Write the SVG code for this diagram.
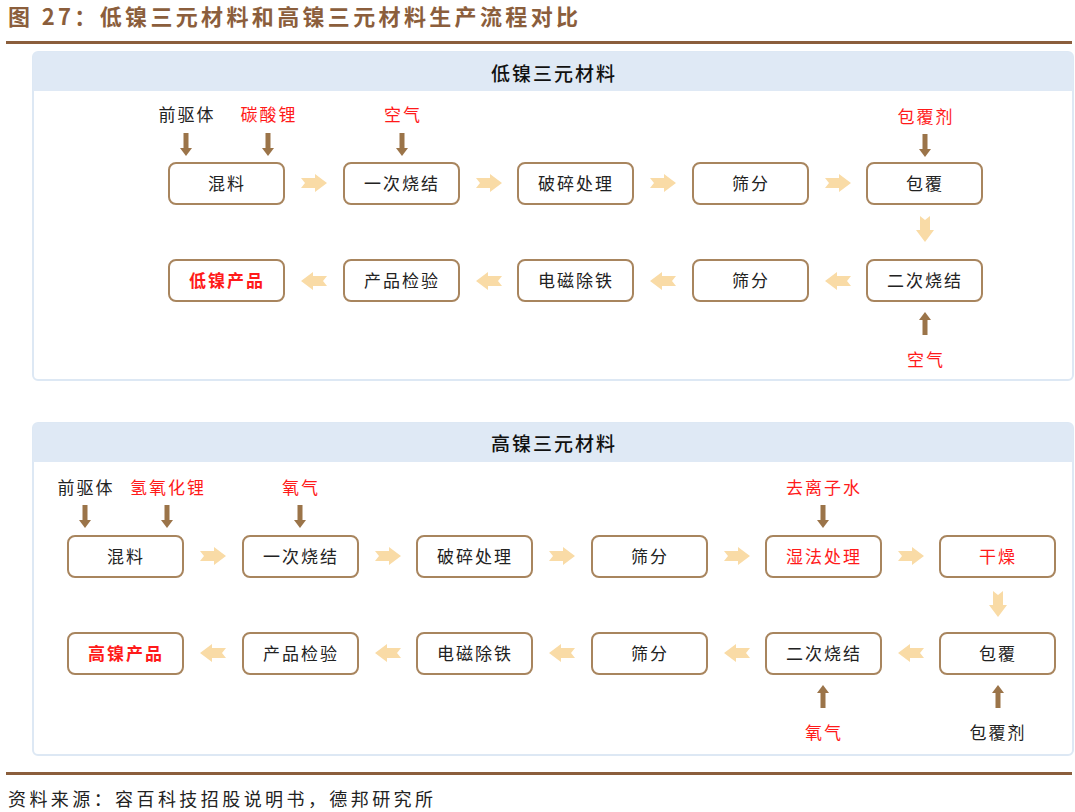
<svg xmlns="http://www.w3.org/2000/svg" xmlns:xlink="http://www.w3.org/1999/xlink" width="1075" height="812" viewBox="0 0 1075 812">
<style>
text{font-family:"Noto Sans CJK SC","Liberation Sans",sans-serif;}
.ttl{font-size:22px;font-weight:bold;fill:#8b5e3c;}
.src{font-size:18px;fill:#222;}
.hdr{font-size:19px;fill:#111;text-anchor:middle;letter-spacing:2px;font-weight:500;}
.panel{fill:#fff;stroke:#dde8f4;stroke-width:2;}
.hbar{fill:#dfe9f5;}
.box{fill:#fff;stroke:#a8855e;stroke-width:2;}
.bt{font-size:17px;fill:#222;text-anchor:middle;letter-spacing:2px;}
.lbl{font-size:17px;fill:#222;text-anchor:middle;letter-spacing:2px;}
.pa{fill:#f9dba6;}
.ba{fill:#9b7449;}
text.red{fill:#ff1a1a;}
.bold{font-weight:bold;}
</style>
<defs>
<path id="ra" d="M-13,-5 L1,-5 L1,-9 L13,0 L1,9 L1,5 L-13,5 L-9,0 Z"/>
<path id="da" d="M-2.5,-12 L2.5,-12 L2.5,3 L6,3 L0,11 L-6,3 L-2.5,3 Z"/>
</defs>
<rect width="1075" height="812" fill="#fff"/>
<text class="ttl" x="8" y="25" textLength="570" lengthAdjust="spacing">图 27：低镍三元材料和高镍三元材料生产流程对比</text>
<rect x="6" y="41" width="1066" height="3" fill="#8b5e3c"/>

<g id="panel-low">
<rect class="panel" x="33" y="52" width="1040" height="328" rx="5"/>
<path class="hbar" d="M38,52 H1068 A5,5 0 0 1 1073,57 V91 H33 V57 A5,5 0 0 1 38,52 Z"/>
<text class="hdr" x="554" y="81">低镍三元材料</text>
</g>

<g id="low-nodes">
<g id="l-mix"><rect class="box" x="169" y="163" width="115" height="41" rx="7"/><text class="bt" x="227" y="190">混料</text></g>
<g id="l-s1"><rect class="box" x="344" y="163" width="115" height="41" rx="7"/><text class="bt" x="402" y="190">一次烧结</text></g>
<g id="l-crush"><rect class="box" x="518" y="163" width="115" height="41" rx="7"/><text class="bt" x="576" y="190">破碎处理</text></g>
<g id="l-sieve1"><rect class="box" x="693" y="163" width="115" height="41" rx="7"/><text class="bt" x="751" y="190">筛分</text></g>
<g id="l-coat"><rect class="box" x="867" y="163" width="115" height="41" rx="7"/><text class="bt" x="925" y="190">包覆</text></g>
<g id="l-prod"><rect class="box" x="169" y="260" width="115" height="41" rx="7"/><text class="bt red bold" x="227" y="287">低镍产品</text></g>
<g id="l-test"><rect class="box" x="344" y="260" width="115" height="41" rx="7"/><text class="bt" x="402" y="287">产品检验</text></g>
<g id="l-fe"><rect class="box" x="518" y="260" width="115" height="41" rx="7"/><text class="bt" x="576" y="287">电磁除铁</text></g>
<g id="l-sieve2"><rect class="box" x="693" y="260" width="115" height="41" rx="7"/><text class="bt" x="751" y="287">筛分</text></g>
<g id="l-s2"><rect class="box" x="867" y="260" width="115" height="41" rx="7"/><text class="bt" x="925" y="287">二次烧结</text></g>
<g id="l-inputs">
<text class="lbl" x="187" y="121">前驱体</text>
<text class="lbl red" x="269" y="121">碳酸锂</text>
<text class="lbl red" x="403" y="121">空气</text>
<text class="lbl red" x="926" y="123">包覆剂</text>
<text class="lbl red" x="926" y="366">空气</text>
</g>
</g>

<g id="panel-high">
<rect class="panel" x="33" y="423" width="1040" height="332" rx="5"/>
<path class="hbar" d="M38,423 H1068 A5,5 0 0 1 1073,428 V462 H33 V428 A5,5 0 0 1 38,423 Z"/>
<text class="hdr" x="554" y="451">高镍三元材料</text>
</g>

<g id="high-nodes">
<g id="h-mix"><rect class="box" x="68" y="536" width="115" height="41" rx="7"/><text class="bt" x="126" y="563">混料</text></g>
<g id="h-s1"><rect class="box" x="243" y="536" width="115" height="41" rx="7"/><text class="bt" x="301" y="563">一次烧结</text></g>
<g id="h-crush"><rect class="box" x="417" y="536" width="115" height="41" rx="7"/><text class="bt" x="475" y="563">破碎处理</text></g>
<g id="h-sieve1"><rect class="box" x="592" y="536" width="115" height="41" rx="7"/><text class="bt" x="650" y="563">筛分</text></g>
<g id="h-wet"><rect class="box" x="766" y="536" width="115" height="41" rx="7"/><text class="bt red" x="824" y="563">湿法处理</text></g>
<g id="h-dry"><rect class="box" x="940" y="536" width="115" height="41" rx="7"/><text class="bt red" x="998" y="563">干燥</text></g>
<g id="h-prod"><rect class="box" x="68" y="633" width="115" height="41" rx="7"/><text class="bt red bold" x="126" y="660">高镍产品</text></g>
<g id="h-test"><rect class="box" x="243" y="633" width="115" height="41" rx="7"/><text class="bt" x="301" y="660">产品检验</text></g>
<g id="h-fe"><rect class="box" x="417" y="633" width="115" height="41" rx="7"/><text class="bt" x="475" y="660">电磁除铁</text></g>
<g id="h-sieve2"><rect class="box" x="592" y="633" width="115" height="41" rx="7"/><text class="bt" x="650" y="660">筛分</text></g>
<g id="h-s2"><rect class="box" x="766" y="633" width="115" height="41" rx="7"/><text class="bt" x="824" y="660">二次烧结</text></g>
<g id="h-coat"><rect class="box" x="940" y="633" width="115" height="41" rx="7"/><text class="bt" x="998" y="660">包覆</text></g>
<g id="h-inputs">
<text class="lbl" x="86" y="494">前驱体</text>
<text class="lbl red" x="168" y="494">氢氧化锂</text>
<text class="lbl red" x="301" y="494">氧气</text>
<text class="lbl red" x="824" y="494">去离子水</text>
<text class="lbl red" x="824" y="739">氧气</text>
<text class="lbl" x="998" y="739">包覆剂</text>
</g>
</g>

<g id="connectors">
<use xlink:href="#ra" class="pa" transform="translate(314,183)"/>
<use xlink:href="#ra" class="pa" transform="translate(489,183)"/>
<use xlink:href="#ra" class="pa" transform="translate(663,183)"/>
<use xlink:href="#ra" class="pa" transform="translate(838,183)"/>
<use xlink:href="#ra" class="pa" transform="translate(925,229) rotate(90)"/>
<use xlink:href="#ra" class="pa" transform="translate(838,281) rotate(180)"/>
<use xlink:href="#ra" class="pa" transform="translate(663,281) rotate(180)"/>
<use xlink:href="#ra" class="pa" transform="translate(489,281) rotate(180)"/>
<use xlink:href="#ra" class="pa" transform="translate(314,281) rotate(180)"/>
<use xlink:href="#da" class="ba" transform="translate(186,145)"/>
<use xlink:href="#da" class="ba" transform="translate(268,145)"/>
<use xlink:href="#da" class="ba" transform="translate(402,145)"/>
<use xlink:href="#da" class="ba" transform="translate(925,146)"/>
<use xlink:href="#da" class="ba" transform="translate(925,323) rotate(180)"/>
<use xlink:href="#ra" class="pa" transform="translate(213,556)"/>
<use xlink:href="#ra" class="pa" transform="translate(388,556)"/>
<use xlink:href="#ra" class="pa" transform="translate(562,556)"/>
<use xlink:href="#ra" class="pa" transform="translate(737,556)"/>
<use xlink:href="#ra" class="pa" transform="translate(911,556)"/>
<use xlink:href="#ra" class="pa" transform="translate(998,604) rotate(90)"/>
<use xlink:href="#ra" class="pa" transform="translate(911,653) rotate(180)"/>
<use xlink:href="#ra" class="pa" transform="translate(737,653) rotate(180)"/>
<use xlink:href="#ra" class="pa" transform="translate(562,653) rotate(180)"/>
<use xlink:href="#ra" class="pa" transform="translate(388,653) rotate(180)"/>
<use xlink:href="#ra" class="pa" transform="translate(213,653) rotate(180)"/>
<use xlink:href="#da" class="ba" transform="translate(85,517)"/>
<use xlink:href="#da" class="ba" transform="translate(167,517)"/>
<use xlink:href="#da" class="ba" transform="translate(300,517)"/>
<use xlink:href="#da" class="ba" transform="translate(823,517)"/>
<use xlink:href="#da" class="ba" transform="translate(823,696) rotate(180)"/>
<use xlink:href="#da" class="ba" transform="translate(998,696) rotate(180)"/>
</g>

<rect x="6" y="772" width="1066" height="3" fill="#8b5e3c"/>
<text class="src" x="8" y="806" textLength="425" lengthAdjust="spacing">资料来源：容百科技招股说明书，德邦研究所</text>
</svg>
